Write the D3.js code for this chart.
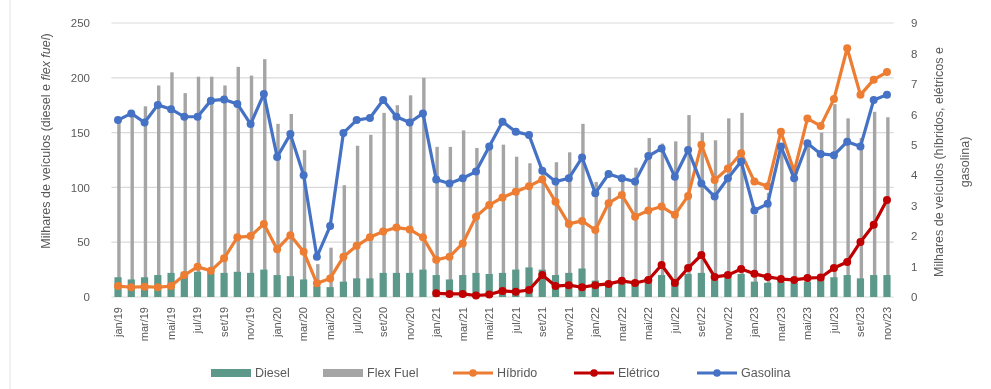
<!DOCTYPE html>
<html>
<head>
<meta charset="utf-8">
<script src="https://cdn.jsdelivr.net/npm/d3@7"></script>
<style>
  html, body { margin: 0; padding: 0; background: #fff; }
  svg { display: block; font-family: "Liberation Sans", "DejaVu Sans", sans-serif; }
</style>
</head>
<body>
<svg id="chart" width="991" height="389"></svg>
<script>
// Monthly vehicle sales, jan/19 – nov/23 (thousands)
const categories = [
  "jan/19","fev/19","mar/19","abr/19","mai/19","jun/19","jul/19","ago/19","set/19","out/19","nov/19","dez/19",
  "jan/20","fev/20","mar/20","abr/20","mai/20","jun/20","jul/20","ago/20","set/20","out/20","nov/20","dez/20",
  "jan/21","fev/21","mar/21","abr/21","mai/21","jun/21","jul/21","ago/21","set/21","out/21","nov/21","dez/21",
  "jan/22","fev/22","mar/22","abr/22","mai/22","jun/22","jul/22","ago/22","set/22","out/22","nov/22","dez/22",
  "jan/23","fev/23","mar/23","abr/23","mai/23","jun/23","jul/23","ago/23","set/23","out/23","nov/23"
];
// every other month gets a tick label
const tickLabels = categories.filter((d, i) => i % 2 === 0);

// left axis: diesel and flex fuel
const diesel = [
  18,16,18,20,22,23,23,22,22,23,22,25,
  20,19,16,10,9,14,17,17,22,22,22,25,
  20,16,20,22,21,22,25,27,25,20,22,26,
  15,13,14,15,17,20,16,21,22,16,18,21,
  14,13,14,13,14,17,18,20,17,20,20
];
const flexFuel = [
  160,165,174,193,205,186,201,201,193,210,202,217,
  158,167,134,30,45,102,138,148,168,175,184,200,
  137,137,152,136,140,139,128,122,115,123,132,158,
  105,100,110,118,145,140,142,166,150,143,163,168,
  75,95,135,105,140,150,176,163,145,169,164
];
// right axis: hybrid, electric and petrol
const hibrido = [
  0.36,0.32,0.34,0.32,0.36,0.72,0.99,0.86,1.27,1.96,2.0,2.4,
  1.57,2.03,1.49,0.45,0.61,1.32,1.68,1.96,2.15,2.28,2.22,1.96,
  1.22,1.32,1.76,2.64,3.02,3.27,3.46,3.64,3.86,3.13,2.4,2.5,
  2.2,3.08,3.35,2.64,2.84,2.97,2.7,3.32,5.0,3.84,4.22,4.72,
  3.79,3.64,5.43,4.12,5.86,5.62,6.5,8.17,6.64,7.14,7.39
];
const eletrico = [
  null,null,null,null,null,null,null,null,null,null,null,null,
  null,null,null,null,null,null,null,null,null,null,null,null,
  0.12,0.1,0.1,0.05,0.08,0.2,0.17,0.23,0.72,0.36,0.39,0.32,
  0.39,0.43,0.53,0.46,0.56,1.05,0.46,0.95,1.38,0.66,0.72,0.92,
  0.76,0.66,0.59,0.56,0.62,0.64,0.95,1.15,1.81,2.37,3.19
];
const gasolina = [
  5.81,6.03,5.73,6.31,6.17,5.92,5.92,6.45,6.49,6.34,5.68,6.67,
  4.6,5.35,4.0,1.32,2.33,5.39,5.81,5.88,6.47,5.92,5.73,6.03,
  3.86,3.73,3.9,4.12,4.94,5.76,5.43,5.32,4.15,3.79,3.9,4.58,
  3.41,4.04,3.9,3.79,4.63,4.88,3.95,4.83,3.73,3.3,3.9,4.45,
  2.84,3.06,4.94,3.9,5.05,4.7,4.66,5.1,4.94,6.47,6.64
];
const leftTicks = [0, 50, 100, 150, 200, 250];
const rightTicks = [0, 1, 2, 3, 4, 5, 6, 7, 8, 9];

const colors = {
  diesel: "#5b998a",
  flex: "#a5a5a5",
  hibrido: "#ed7d31",
  eletrico: "#c00000",
  gasolina: "#4472c4",
  grid: "#d9d9d9",
  text: "#595959"
};

const svg = d3.select("#chart");
const plot = { left: 111.4, right: 893.6, top: 23, bottom: 297 };

// slight softening of the whole drawing
svg.append("defs").append("filter").attr("id", "soft")
  .append("feGaussianBlur").attr("stdDeviation", 0.55);
const root = svg.append("g").attr("filter", "url(#soft)");

const x = d3.scaleBand().domain(categories).range([plot.left, plot.right]).paddingInner(0).paddingOuter(0);
const cx = d => x(d) + x.bandwidth() / 2;
const yL = d3.scaleLinear().domain([0, 250]).range([plot.bottom, plot.top]);
const yR = d3.scaleLinear().domain([0, 9]).range([plot.bottom, plot.top]);

// faint frame edge on the left
root.append("line").attr("x1", 10).attr("x2", 10).attr("y1", 0).attr("y2", 389)
  .attr("stroke", "#e3e3e3").attr("stroke-width", 1);

// horizontal gridlines (left axis)
root.append("g").selectAll("line").data(leftTicks).join("line")
  .attr("x1", plot.left).attr("x2", plot.right)
  .attr("y1", d => yL(d)).attr("y2", d => yL(d))
  .attr("stroke", colors.grid).attr("stroke-width", 1.2);

// left axis
const axL = d3.axisLeft(yL).tickValues(leftTicks).tickSize(0).tickPadding(0);
root.append("g").attr("transform", "translate(90,0)").call(axL)
  .call(g => g.select(".domain").remove())
  .call(g => g.selectAll("text").attr("fill", colors.text).attr("font-size", 11.5));

// right axis
const axR = d3.axisRight(yR).tickValues(rightTicks).tickSize(0).tickPadding(0);
root.append("g").attr("transform", "translate(911,0)").call(axR)
  .call(g => g.select(".domain").remove())
  .call(g => g.selectAll("text").attr("fill", colors.text).attr("font-size", 11.5));

// x axis labels, rotated
const axX = d3.axisBottom(x).tickValues(tickLabels).tickSize(0).tickPadding(0);
root.append("g").attr("transform", `translate(0,${plot.bottom})`).call(axX)
  .call(g => g.select(".domain").remove())
  .call(g => g.selectAll("text")
    .attr("fill", colors.text).attr("font-size", 11)
    .attr("text-anchor", "end")
    .attr("transform", "translate(0,10) rotate(-90)")
    .attr("dx", 0).attr("dy", "0.35em").attr("y", 0).attr("x", 0));

// flex fuel bars
root.append("g").selectAll("rect").data(flexFuel).join("rect")
  .attr("x", (d, i) => cx(categories[i]) - 0.8)
  .attr("width", 3.4)
  .attr("y", d => yL(d))
  .attr("height", d => yL(0) - yL(d))
  .attr("fill", colors.flex);

// diesel bars
root.append("g").selectAll("rect").data(diesel).join("rect")
  .attr("x", (d, i) => cx(categories[i]) - 3.6)
  .attr("width", 7.2)
  .attr("y", d => yL(d))
  .attr("height", d => yL(0) - yL(d))
  .attr("fill", colors.diesel);

// line series on the right axis
function drawSeries(values, color) {
  const pts = values.map((v, i) => ({ c: categories[i], v })).filter(p => p.v !== null);
  const line = d3.line().x(p => cx(p.c)).y(p => yR(p.v));
  root.append("path").datum(pts).attr("d", line)
    .attr("fill", "none").attr("stroke", color).attr("stroke-width", 3.2)
    .attr("stroke-linejoin", "round");
  root.append("g").selectAll("circle").data(pts).join("circle")
    .attr("cx", p => cx(p.c)).attr("cy", p => yR(p.v)).attr("r", 4)
    .attr("fill", color);
}
drawSeries(hibrido, colors.hibrido);
drawSeries(eletrico, colors.eletrico);
drawSeries(gasolina, colors.gasolina);

// axis titles
const titleL = root.append("text")
  .attr("transform", "translate(50,141) rotate(-90)")
  .attr("text-anchor", "middle").attr("font-size", 12.5).attr("fill", colors.text);
titleL.append("tspan").text("Milhares de veículos (diesel e ");
titleL.append("tspan").attr("font-style", "italic").text("flex fuel");
titleL.append("tspan").text(")");

const titleR = root.append("text")
  .attr("transform", "translate(943,162) rotate(-90)")
  .attr("text-anchor", "middle").attr("font-size", 12.5).attr("fill", colors.text);
titleR.append("tspan").attr("x", 0).attr("dy", 0).text("Milhares de veículos (híbridos, elétricos e");
titleR.append("tspan").attr("x", 0).attr("dy", 26).text("gasolina)");

// legend
const legendItems = [
  { name: "Diesel", type: "bar", color: colors.diesel, x: 211 },
  { name: "Flex Fuel", type: "bar", color: colors.flex, x: 323 },
  { name: "Híbrido", type: "line", color: colors.hibrido, x: 453 },
  { name: "Elétrico", type: "line", color: colors.eletrico, x: 574 },
  { name: "Gasolina", type: "line", color: colors.gasolina, x: 697 }
];
const lg = root.append("g").selectAll("g").data(legendItems).join("g")
  .attr("transform", d => `translate(${d.x},373)`);
lg.filter(d => d.type === "bar").append("rect")
  .attr("x", 0).attr("y", -4).attr("width", 40).attr("height", 8)
  .attr("fill", d => d.color);
lg.filter(d => d.type === "line").append("line")
  .attr("x1", 0).attr("x2", 40).attr("y1", 0).attr("y2", 0)
  .attr("stroke", d => d.color).attr("stroke-width", 3);
lg.filter(d => d.type === "line").append("circle")
  .attr("cx", 20).attr("cy", 0).attr("r", 3.8).attr("fill", d => d.color);
lg.append("text").attr("x", 44).attr("y", 0).attr("dy", "0.35em")
  .attr("font-size", 12.5).attr("fill", colors.text).text(d => d.name);
</script>
</body>
</html>
